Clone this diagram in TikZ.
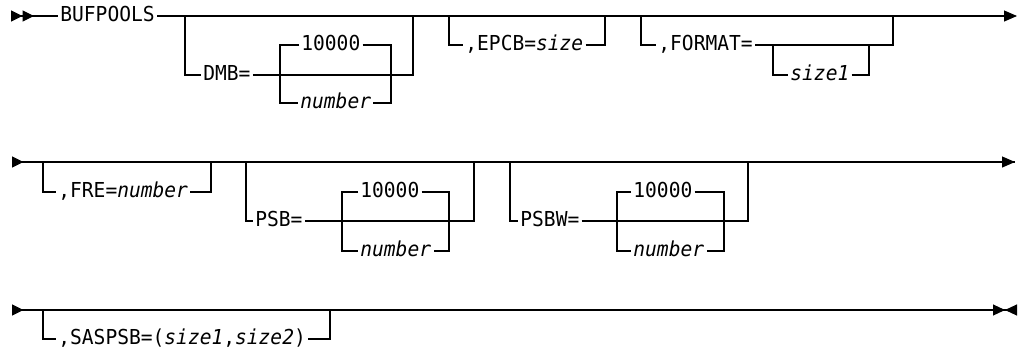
\documentclass[tikz,border=0pt]{standalone}
\usepackage{fontspec}
\setmainfont[FakeStretch=0.95]{DejaVu Sans Mono}
\usetikzlibrary{arrows.meta}
\newcommand{\rrfont}{\fontsize{10.3}{12}\selectfont}
\tikzset{
  kw/.style={anchor=mid west, inner xsep=1pt, inner ysep=0pt, font=\rrfont},
  var/.style={kw, font=\rrfont\itshape},
  rr/.style={line width=0.55pt, draw=black},
  rrstart/.style={rr, {Triangle[reversed, length=5.75pt, width=5.5pt]}-},
  rrstartt/.style={rr, {Triangle[reversed, length=5.75pt, width=5.5pt]
                        Triangle[reversed, length=5.75pt, width=5.5pt]}-},
  rrcont/.style={rr, -{Triangle[length=6.5pt, width=5.5pt]}},
  rrend/.style={rr, -{Triangle[length=6pt, width=5.5pt]
                      Triangle[reversed, length=6pt, width=5.5pt]}},
}

\begin{document}
\begin{tikzpicture}[x=0.5pt, y=-0.5pt]
\useasboundingbox (0,0) rectangle (1021,349);

% ── Y levels ──────────────────────────────────────────────────────────────────
% Row 1
\def\ya{16}
\def\yb{45}
\def\yc{75}
\def\yd{103}
% Row 2
\def\yf{162}
\def\yg{192}
\def\yh{221}
\def\yi{251}
% Row 3
\def\yj{310}
\def\yk{339}

% ── Row 1 Nodes ───────────────────────────────────────────────────────────────

\node[kw]  (bufpools) at (58, \ya)  {BUFPOOLS};
\node[kw]  (dmb)      at (201, \yc) {DMB=};
\node[kw]  (dmbdef)   at (299, \yb) {10000};
\node[var] (dmbnum)   at (298, \yd) {number};
\node[kw]  (epcb)     at (463, \yb) {,EPCB=\textit{size}};
\node[kw]  (format)   at (656, \yb) {,FORMAT=};
\node[var] (fmtsize)  at (788, \yc) {size1};

\coordinate (st1)   at (11, \ya);
\coordinate (end1)  at (1017, \ya);
\coordinate (dmbL)  at (185, \ya);
\coordinate (dmbR)  at (413, \ya);
\coordinate (dmbiL) at (280, \yc);
\coordinate (dmbiR) at (391, \yc);
\coordinate (epcbL) at (449, \ya);
\coordinate (epcbR) at (605, \ya);
\coordinate (fmtL)  at (641, \ya);
\coordinate (fmtR)  at (893, \ya);
\coordinate (fmtiL) at (773, \yb);
\coordinate (fmtiR) at (869, \yb);

% ── Row 2 Nodes ───────────────────────────────────────────────────────────────

\node[kw]  (fre)     at (56, \yg)  {,FRE=\textit{number}};
\node[kw]  (psb)     at (253, \yh) {PSB=};
\node[kw]  (psbdef)  at (358, \yg) {10000};
\node[var] (psbnum)  at (358, \yi) {number};
\node[kw]  (psbw)    at (518, \yh) {PSBW=};
\node[kw]  (psbwdef) at (631, \yg) {10000};
\node[var] (psbwnum) at (631, \yi) {number};

\coordinate (st2)    at (12, \yf);
\coordinate (end2)   at (1015, \yf);
\coordinate (freL)   at (43, \yf);
\coordinate (freR)   at (211, \yf);
\coordinate (psbL)   at (246, \yf);
\coordinate (psbR)   at (474, \yf);
\coordinate (psbiL)  at (342, \yh);
\coordinate (psbiR)  at (449, \yh);
\coordinate (psbwL)  at (510, \yf);
\coordinate (psbwR)  at (748, \yf);
\coordinate (psbwiL) at (617, \yh);
\coordinate (psbwiR) at (724, \yh);

% ── Row 3 Nodes ───────────────────────────────────────────────────────────────

\node[kw] (saspsb) at (56, \yk) {,SASPSB=(\textit{size1},\textit{size2})};

\coordinate (st3)  at (12, \yj);
\coordinate (end3) at (1017, \yj);
\coordinate (sasL) at (43, \yj);
\coordinate (sasR) at (330, \yj);

% ── Row 1 lines ───────────────────────────────────────────────────────────────

\draw[rrstartt] (st1) -- (bufpools.mid west);
\draw[rrcont] (bufpools.mid east) -- (end1);

% DMB
\draw[rr] (dmbL) |- (dmb.mid west);
\draw[rr] (dmb.mid east) -| (dmbR);
\draw[rr] (dmbdef.mid west) -| (dmbiL) |- (dmbnum.mid west);
\draw[rr] (dmbdef.mid east) -| (dmbiR) |- (dmbnum.mid east);

% EPCB
\draw[rr] (epcbL) |- (epcb.mid west);
\draw[rr] (epcb.mid east) -| (epcbR);

% FORMAT
\draw[rr] (fmtL) |- (format.mid west);
\draw[rr] (format.mid east) -| (fmtR);
\draw[rr] (fmtiL) |- (fmtsize.mid west);
\draw[rr] (fmtsize.mid east) -| (fmtiR);

% ── Row 2 lines ───────────────────────────────────────────────────────────────

\draw[rrstart] (st2) -- (end2);
\draw[rrcont] (st2) -- (end2);

% FRE
\draw[rr] (freL) |- (fre.mid west);
\draw[rr] (fre.mid east) -| (freR);

% PSB
\draw[rr] (psbL) |- (psb.mid west);
\draw[rr] (psb.mid east) -| (psbR);
\draw[rr] (psbdef.mid west) -| (psbiL) |- (psbnum.mid west);
\draw[rr] (psbdef.mid east) -| (psbiR) |- (psbnum.mid east);

% PSBW
\draw[rr] (psbwL) |- (psbw.mid west);
\draw[rr] (psbw.mid east) -| (psbwR);
\draw[rr] (psbwdef.mid west) -| (psbwiL) |- (psbwnum.mid west);
\draw[rr] (psbwdef.mid east) -| (psbwiR) |- (psbwnum.mid east);

% ── Row 3 lines ───────────────────────────────────────────────────────────────

\draw[rrstart] (st3) -- (end3);
\draw[rrend] (st3) -- (end3);

% SASPSB
\draw[rr] (sasL) |- (saspsb.mid west);
\draw[rr] (saspsb.mid east) -| (sasR);

\end{tikzpicture}
\end{document}
